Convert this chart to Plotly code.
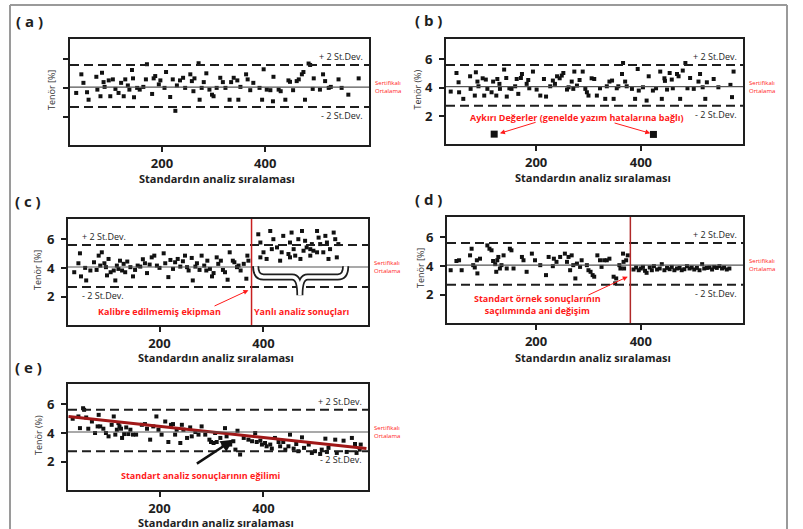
import plotly.graph_objects as go

W, H = 803, 529

# ---------------- data ----------------
a_x = [34,44,48,55,58,73,75,81,84,87,89,97,100,105,110,116,121,126,129,134,
       137,142,144,146,152,157,164,169,171,181,184,187,194,197,205,208,216,221,226,229,
       235,241,245,255,258,261,263,271,273,277,281,286,292,297,300,306,313,318,323,331,
       334,339,346,348,352,363,366,371,377,389,394,397,403,410,415,416,426,430,439,445,
       448,454,461,465,471,474,477,484,487,492,494,506,512,516,523,527,542,548,561,581]
a_y = [3.66,4.95,4.36,3.71,3.19,4.78,3.89,3.43,5.06,4.41,4.08,4.53,3.43,4.60,3.94,3.66,4.36,3.43,4.60,4.18,
       3.89,5.25,4.67,3.36,4.01,3.89,4.08,4.60,5.65,3.59,4.67,4.83,4.25,4.53,4.01,5.11,3.38,4.60,2.42,4.18,
       4.53,4.71,4.01,4.95,4.48,3.78,4.67,5.72,3.19,4.01,4.41,5.02,3.89,3.54,3.43,4.01,4.71,4.41,4.01,3.19,
       4.41,4.71,4.53,3.19,4.08,4.95,4.60,3.85,4.36,4.01,3.19,5.30,3.89,3.85,3.08,4.78,3.89,3.78,3.19,4.53,
       4.43,3.85,4.48,4.60,4.95,5.11,3.19,5.70,5.60,3.94,4.67,3.89,4.95,4.48,4.01,4.08,4.60,4.01,3.54,4.67]

b_x = [37,48,52,53,61,74,75,83,85,88,90,98,101,104,107,115,118,124,126,130,
       131,139,143,144,149,153,160,163,166,171,173,182,185,187,194,201,208,215,219,227,
       232,236,240,245,249,252,259,262,268,271,273,278,283,289,294,297,300,306,311,316,
       322,332,335,340,345,348,354,357,364,366,370,373,383,389,394,396,404,411,415,423,
       429,437,440,445,446,450,455,459,461,469,472,475,480,485,489,494,501,510,513,518,
       523,526,539,548,571,574,577]
b_y = [3.72,5.02,4.37,3.67,3.21,4.79,3.91,3.44,5.07,4.42,4.09,4.65,3.44,4.56,3.91,3.67,4.42,3.44,4.60,4.26,
       3.91,5.26,4.67,3.37,3.95,3.91,4.09,4.60,3.56,4.67,4.95,4.26,4.53,3.95,5.12,3.86,3.44,4.60,3.37,4.09,
       4.49,4.26,4.79,4.65,4.84,5.02,3.86,4.02,4.42,3.91,5.12,4.14,4.53,5.12,3.91,3.67,3.44,4.65,4.60,3.44,
       3.95,3.21,4.09,4.42,4.49,3.21,3.95,4.09,4.95,5.72,4.42,4.09,3.91,3.21,5.30,3.79,4.02,3.09,4.79,3.79,
       3.95,5.12,3.21,4.65,4.47,3.86,5.02,4.56,3.95,4.95,4.79,3.21,5.19,5.72,3.95,4.67,3.91,4.42,4.95,4.02,
       3.21,4.37,4.60,4.02,4.19,3.33,5.12]
b_out_x = [120, 424]
b_out_y = [0.74, 0.72]

c_x = [36,44,47,49,57,59,67,74,79,83,86,89,94,97,99,102,106,112,115,118,
       121,124,128,131,134,138,144,149,153,158,163,168,172,176,181,185,190,195,200,208,
       211,217,221,226,230,235,240,245,249,253,256,262,264,269,272,277,281,286,290,292,
       297,301,304,310,313,318,322,326,331,335,341,344,349,352,356,362,367,369,371,
       390,394,413,419,416,426,435,438,454,451,458,461,467,474,480,477,483,490,493,490,
       503,506,509,515,519,522,525,535,538,541,503,528,451,471,400,394,432,406,544,448,496]
c_y = [3.71,4.33,5.02,3.42,4.01,3.14,3.83,4.40,3.87,4.86,4.17,5.09,4.33,4.06,3.49,4.63,3.71,3.83,3.14,4.17,
       3.94,4.51,3.83,4.29,3.71,4.45,4.06,3.42,3.87,4.17,4.10,4.61,4.33,3.65,4.24,4.74,4.86,4.17,4.01,5.02,
       4.33,3.37,4.56,3.94,4.40,4.63,4.10,4.47,4.86,4.06,3.83,4.70,3.14,4.10,4.33,3.87,4.86,4.17,3.83,4.51,
       3.94,3.42,3.65,4.74,4.29,4.51,3.87,3.71,3.19,5.09,4.51,4.40,4.06,4.17,3.83,4.29,3.26,4.86,4.51,
       6.34,5.77,6.57,6.00,5.31,5.43,5.09,6.23,6.46,5.77,5.31,4.86,6.00,6.57,5.89,5.20,5.43,5.31,5.66,4.86,
       6.57,6.11,5.66,5.09,6.23,5.77,4.63,6.46,6.00,4.74,5.09,5.31,4.74,4.63,5.09,4.74,4.51,4.63,5.66,4.97,5.20]

d_x = [37,48,53,58,74,77,80,83,87,88,93,107,111,115,118,122,124,126,128,131,
       134,138,144,150,153,157,173,176,182,192,198,208,219,224,232,234,239,246,255,259,
       262,265,268,271,275,278,284,287,297,300,304,308,311,317,322,325,330,335,340,348,
       351,353,359,361,366,367,368,372,375,
       386,391,396,400,404,408,411,417,421,425,431,436,440,445,450,455,459,464,469,474,
       478,483,488,493,497,502,507,512,517,521,526,531,536,540,545,550,555,559,564,569]
d_y = [3.71,4.35,4.40,3.71,4.74,5.20,4.06,3.90,4.40,3.49,4.51,5.43,5.20,5.09,4.35,4.13,3.60,4.40,4.63,3.83,
       4.06,4.74,3.83,5.20,5.09,3.83,4.63,4.40,3.60,4.86,4.40,4.06,3.37,4.63,3.99,4.51,4.29,4.63,4.86,4.29,
       4.63,3.71,4.74,4.06,3.14,4.17,3.94,4.40,4.06,3.71,3.60,3.37,3.26,4.74,4.40,3.94,4.40,4.40,4.51,3.26,
       2.80,3.14,4.06,3.83,4.86,4.29,3.83,4.40,4.74,
       3.76,3.90,3.71,3.83,3.94,3.67,3.53,3.90,3.71,3.99,3.76,3.83,4.13,3.71,3.87,3.78,3.94,3.71,3.83,3.87,
       3.71,3.78,3.99,3.83,3.90,3.76,3.87,3.71,4.13,3.83,3.87,3.90,3.76,3.94,3.87,3.99,3.83,3.90,3.76,3.83]

e_x = [33,44,47,53,55,59,63,70,76,81,83,86,92,97,102,108,112,115,118,121,
       123,126,128,132,136,140,144,149,155,166,172,176,182,188,194,198,204,211,217,222,
       226,230,233,240,243,246,253,259,262,269,275,281,288,296,299,304,307,310,317,323,
       326,329,336,342,346,350,355,362,371,378,384,387,394,397,403,406,413,416,422,429,
       432,438,442,448,451,458,463,467,474,478,487,493,499,509,512,519,522,525,538,541,
       554,560,570,576,579,585,587]
e_y = [4.99,5.15,4.34,5.72,5.61,5.08,4.30,4.80,4.00,4.46,5.26,4.46,4.30,4.00,3.77,4.57,5.15,3.89,4.23,4.69,
       4.46,4.30,3.66,3.93,4.39,3.93,4.23,3.89,3.89,4.57,4.62,4.30,3.54,4.46,5.15,4.23,3.89,4.80,3.38,4.57,
       4.62,3.89,4.23,3.31,4.57,4.23,3.66,4.39,3.77,4.07,3.89,4.46,3.89,3.54,3.38,3.31,4.00,3.38,3.66,3.20,
       4.34,3.77,3.20,3.43,2.85,4.16,2.51,3.66,3.54,3.43,4.00,3.38,3.47,3.20,3.31,3.08,3.20,2.92,3.66,3.38,
       3.08,3.38,2.85,3.08,3.89,2.92,3.24,2.74,3.70,2.97,3.20,2.62,2.74,2.55,2.85,3.61,2.69,2.97,3.54,2.62,
       3.47,2.69,3.66,3.24,2.62,2.85,3.20]
trend_x = [25, 598]
trend_y = [5.15, 2.92]

mean_vals = [4.06, 4.07, 4.07, 4.06, 4.07]
upper_vals = [5.60, 5.58, 5.60, 5.60, 5.61]
lower_vals = [2.68, 2.72, 2.68, 2.70, 2.74]
shift_c = 377
shift_d = 380

x_ticks = [200, 400]
y_ticks = [2, 4, 6]
panel_labels = ["( a )", "( b )", "( c )", "( d )", "( e )"]
x_title = "Standardın analiz sıralaması"
y_titles = ["Tenör [%]", "Tenör (%)", "Tenör [%]", "Tenör [%]", "Tenör (%)"]
cert_label = "Sertifikalı<br>Ortalama"
up_label = "+ 2 St.Dev."
lo_label = "- 2 St.Dev."

# ---------------- layout helpers ----------------
FONT = "Open Sans"
INK = "#1e1e1e"
RED = "#ff1a1a"

# pixel boxes (left, top, right, bottom) of each plot area
boxes = [(70, 39, 369, 145), (446, 39, 743, 144), (68, 219, 368, 325),
         (447, 217, 743, 323), (68, 384, 368, 490)]
xranges = [[22, 601], [28, 595], [24, 601], [30, 595], [24, 601]]
yrange = [0.05, 7.4]

def px(x):
    return x / W

def py(y):
    return 1 - y / H

fig = go.Figure()
series = [(a_x, a_y), (b_x, b_y), (c_x, c_y), (d_x, d_y), (e_x, e_y)]
layout_axes = {}
shapes = []
annotations = []

for i, (xs, ys) in enumerate(series):
    s = "" if i == 0 else str(i + 1)
    l, t, r, b = boxes[i]
    fig.add_trace(go.Scatter(x=xs, y=ys, mode="markers", xaxis="x" + s, yaxis="y" + s,
                             marker=dict(symbol="square", size=4, color="#111"),
                             showlegend=False, hoverinfo="skip"))
    axcommon = dict(showline=True, linewidth=2, linecolor=INK, mirror=True, showgrid=False,
                    zeroline=False, ticks="outside", ticklen=5, tickwidth=2, tickcolor=INK,
                    tickfont=dict(family=FONT, size=13, color=INK, weight="bold"))
    layout_axes["xaxis" + s] = dict(domain=[px(l), px(r)], range=xranges[i], tickvals=x_ticks,
                                    anchor="y" + s, **axcommon)
    layout_axes["yaxis" + s] = dict(domain=[py(b), py(t)], range=yrange, tickvals=y_ticks,
                                    anchor="x" + s, showticklabels=(i != 0),
                                    ticklabelstandoff=4, **axcommon)
    # control lines
    for val, dash, wdt, col in [(upper_vals[i], "9px,5px", 2, INK), (lower_vals[i], "9px,5px", 2, INK),
                                (mean_vals[i], "solid", 1.2, "#555")]:
        shapes.append(dict(type="line", xref="x" + s + " domain", x0=0, x1=1, yref="y" + s,
                           y0=val, y1=val, line=dict(color=col, width=wdt, dash=dash)))
    # labels
    if i == 2:
        lx, lanchor = 0.04, "left"
    else:
        lx, lanchor = 0.985, "right"
    annotations.append(dict(xref="x" + s + " domain", x=lx, xanchor=lanchor, yref="y" + s,
                            y=upper_vals[i], yanchor="bottom", text=up_label, showarrow=False,
                            font=dict(family=FONT, size=9, color=INK)))
    annotations.append(dict(xref="x" + s + " domain", x=lx, xanchor=lanchor, yref="y" + s,
                            y=lower_vals[i], yanchor="top", text=lo_label, showarrow=False,
                            font=dict(family=FONT, size=9, color=INK)))
    annotations.append(dict(xref="x" + s + " domain", x=1.012, xanchor="left", yref="y" + s,
                            y=mean_vals[i], yanchor="middle", text=cert_label, showarrow=False,
                            align="left", font=dict(family=FONT, size=6, color=RED)))
    # axis titles
    xt_y = [178, 177, 357, 357, 522][i]
    annotations.append(dict(xref="paper", yref="paper", x=px((l + r) / 2 - 2), y=py(xt_y),
                            xanchor="center", yanchor="middle",
                            text="<b>" + x_title + "</b>", showarrow=False,
                            font=dict(family=FONT, size=11, color=INK)))
    yt_x = [52, 417, 37, 420, 38][i]
    annotations.append(dict(xref="paper", yref="paper", x=px(yt_x), y=py((t + b) / 2 - 2),
                            xanchor="center", yanchor="middle",
                            text=y_titles[i], textangle=-90, showarrow=False,
                            font=dict(family=FONT, size=9, color="#333")))
    pl = [(30, 21), (428, 20), (28, 201), (428, 199), (28, 367)][i]
    annotations.append(dict(xref="paper", yref="paper", x=px(pl[0]), y=py(pl[1]),
                            xanchor="center", yanchor="middle",
                            text="<b>" + panel_labels[i] + "</b>", showarrow=False,
                            font=dict(family=FONT, size=15, color=INK)))

# ---- panel b: outliers ----
fig.add_trace(go.Scatter(x=b_out_x, y=b_out_y, mode="markers", xaxis="x2", yaxis="y2",
                         marker=dict(symbol="square", size=7, color="#111"),
                         showlegend=False, hoverinfo="skip"))
annotations.append(dict(xref="x2", yref="y2", x=278, y=1.93, showarrow=False,
                        text="<b>Aykırı Değerler (genelde yazım hatalarına bağlı)</b>",
                        font=dict(family=FONT, size=9, color=RED)))
for (tx, ty, hx, hy) in [(202, 1.6, b_out_x[0] + 11, b_out_y[0] + 0.06),
                         (347, 1.55, b_out_x[1] - 6, b_out_y[1] + 0.08)]:
    annotations.append(dict(xref="x2", yref="y2", axref="x2", ayref="y2", x=hx, y=hy, ax=tx, ay=ty,
                            text="", showarrow=True, arrowhead=2, arrowsize=1, arrowwidth=1,
                            arrowcolor=RED))

# ---- panel c ----
shapes.append(dict(type="line", xref="x3", x0=shift_c, x1=shift_c, yref="y3 domain", y0=0, y1=1,
                   line=dict(color="#c82020", width=1.5)))
brace = ("M 385,4.12 Q 385,3.38 400,3.38 L 455,3.38 Q 470,3.38 470,2.12 "
         "Q 470,3.38 485,3.38 L 543,3.38 Q 558,3.38 558,4.12")
shapes.append(dict(type="path", xref="x3", yref="y3", path=brace, line=dict(color=INK, width=7)))
shapes.append(dict(type="path", xref="x3", yref="y3", path=brace, line=dict(color="white", width=3.5)))
annotations.append(dict(xref="x3", yref="y3", x=200, y=0.97, showarrow=False,
                        text="<b>Kalibre edilmemiş ekipman</b>",
                        font=dict(family=FONT, size=9, color=RED)))
annotations.append(dict(xref="x3", yref="y3", x=475, y=0.97, showarrow=False,
                        text="<b>Yanlı analiz sonuçları</b>",
                        font=dict(family=FONT, size=9, color=RED)))
annotations.append(dict(xref="x3", yref="y3", axref="x3", ayref="y3", x=371, y=2.46, ax=303, ay=1.32,
                        text="", showarrow=True, arrowhead=2, arrowsize=1, arrowwidth=1,
                        arrowcolor=RED))

# ---- panel d ----
shapes.append(dict(type="line", xref="x4", x0=shift_d, x1=shift_d, yref="y4 domain", y0=0, y1=1,
                   line=dict(color="#b02828", width=1.5)))
annotations.append(dict(xref="x4", yref="y4", x=202, y=1.35, showarrow=False,
                        text="<b>Standart örnek sonuçlarının<br>saçılımında ani değişim</b>",
                        font=dict(family=FONT, size=9, color=RED)))
annotations.append(dict(xref="x4", yref="y4", axref="x4", ayref="y4", x=375, y=3.26, ax=297, ay=1.94,
                        text="", showarrow=True, arrowhead=2, arrowsize=1, arrowwidth=1,
                        arrowcolor=RED))

# ---- panel e ----
fig.add_trace(go.Scatter(x=trend_x, y=trend_y, mode="lines", xaxis="x5", yaxis="y5",
                         line=dict(color="#a01818", width=3), showlegend=False, hoverinfo="skip"))
annotations.append(dict(xref="x5", yref="y5", axref="x5", ayref="y5", x=342, y=3.54, ax=269, ay=1.81,
                        text="", showarrow=True, arrowhead=2, arrowsize=1, arrowwidth=2.5,
                        arrowcolor="#111"))
annotations.append(dict(xref="x5", yref="y5", x=279, y=1.08, showarrow=False,
                        text="<b>Standart analiz sonuçlarının eğilimi</b>",
                        font=dict(family=FONT, size=9, color=RED)))

# ---- outer frame ----
frame = dict(color="#9a9a9a", width=2)
shapes.append(dict(type="line", xref="paper", yref="paper", x0=px(10), x1=px(787), y0=py(5), y1=py(5), line=frame))
shapes.append(dict(type="line", xref="paper", yref="paper", x0=px(10), x1=px(10), y0=py(5), y1=py(529), line=frame))
shapes.append(dict(type="line", xref="paper", yref="paper", x0=px(787), x1=px(787), y0=py(5), y1=py(529), line=frame))

fig.update_layout(width=W, height=H, margin=dict(l=0, r=0, t=0, b=0), paper_bgcolor="white",
                  plot_bgcolor="white", shapes=shapes, annotations=annotations,
                  font=dict(family=FONT, color=INK), **layout_axes)

fig.write_html("out.html", config={"displayModeBar": False},
               post_script="document.body.style.margin='0';document.body.style.overflow='hidden';")
